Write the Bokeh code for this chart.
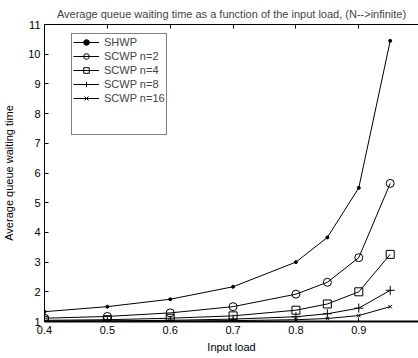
from bokeh.plotting import figure
from bokeh.models import Range1d, LinearAxis, Legend, LegendItem, FixedTicker
from bokeh.embed import file_html
from bokeh.resources import INLINE

# ---- data ----
load = [0.4, 0.5, 0.6, 0.7, 0.8, 0.85, 0.9, 0.95]
shwp = [1.33, 1.50, 1.75, 2.17, 3.00, 3.83, 5.50, 10.45]
scwp_n2 = [1.11, 1.17, 1.29, 1.50, 1.92, 2.32, 3.15, 5.65]
scwp_n4 = [1.04, 1.06, 1.11, 1.19, 1.38, 1.59, 2.00, 3.26]
scwp_n8 = [1.01, 1.02, 1.04, 1.08, 1.16, 1.26, 1.45, 2.05]
scwp_n16 = [1.00, 1.01, 1.01, 1.03, 1.06, 1.10, 1.20, 1.50]
x_ticks = [0.4, 0.5, 0.6, 0.7, 0.8, 0.9, 1.0]
y_ticks = [1, 2, 3, 4, 5, 6, 7, 8, 9, 10, 11]

FONT = "Liberation Sans"

p = figure(width=418, height=358, output_backend="svg", toolbar_location=None,
           x_range=Range1d(0.4, 0.995), y_range=Range1d(1, 11),
           min_border_left=43, min_border_right=0, min_border_top=24,
           min_border_bottom=37,
           title="Average queue waiting time as a function of the input load, (N-->infinite)")
p.title.text_font = FONT
p.title.text_font_size = "11px"
p.title.text_font_style = "normal"
p.title.align = "center"
p.title.vertical_align = "top"
p.title.standoff = 6
p.outline_line_color = None
p.grid.visible = False
p.background_fill_color = "white"
p.border_fill_color = "white"

for ax in (p.xaxis[0], p.yaxis[0]):
    ax.major_tick_in = 4
    ax.major_tick_out = 0
    ax.minor_tick_line_color = None
    ax.axis_line_color = "black"
    ax.major_tick_line_color = "black"
    ax.major_label_text_font = FONT
    ax.major_label_text_font_size = "11px"
    ax.major_label_text_color = "black"
    ax.axis_label_text_font = FONT
    ax.axis_label_text_font_size = "11px"
    ax.axis_label_text_font_style = "normal"
    ax.axis_label_text_color = "black"

p.xaxis[0].ticker = FixedTicker(ticks=x_ticks)
p.yaxis[0].ticker = FixedTicker(ticks=y_ticks)
p.xaxis[0].axis_label = "Input load"
p.yaxis[0].axis_label = "Average queue waiting time"
p.xaxis[0].axis_line_width = 2
p.xaxis[0].major_label_standoff = 4
p.xaxis[0].axis_label_standoff = 4
p.yaxis[0].major_label_standoff = 4
p.yaxis[0].axis_label_standoff = 10

top = LinearAxis(ticker=FixedTicker(ticks=x_ticks), major_tick_in=4, major_tick_out=0,
                 minor_tick_line_color=None, major_label_text_alpha=0,
                 major_label_text_font_size="1px", axis_line_color="black",
                 major_label_standoff=0)
p.add_layout(top, "above")

kw = dict(line_color="black", line_width=1)
r1 = p.line(load, shwp, **kw)
m1 = p.scatter(load, shwp, marker="circle", size=3, fill_color="black", line_color="black")
r2 = p.line(load, scwp_n2, **kw)
m2 = p.scatter(load, scwp_n2, marker="circle", size=8, fill_color=None, line_color="black")
r3 = p.line(load, scwp_n4, **kw)
m3 = p.scatter(load, scwp_n4, marker="square", size=8, fill_color=None, line_color="black")
r4 = p.line(load, scwp_n8, **kw)
m4 = p.scatter(load, scwp_n8, marker="cross", size=9, line_color="black")
r5 = p.line(load, scwp_n16, **kw)
m5 = p.scatter(load, scwp_n16, marker="x", size=5, line_color="black")
blank1 = p.line([], [], line_alpha=0)
blank2 = p.line([], [], line_alpha=0)

legend = Legend(items=[
    LegendItem(label="SHWP", renderers=[r1, m1]),
    LegendItem(label="SCWP n=2", renderers=[r2, m2]),
    LegendItem(label="SCWP n=4", renderers=[r3, m3]),
    LegendItem(label="SCWP n=8", renderers=[r4, m4]),
    LegendItem(label="SCWP n=16", renderers=[r5, m5]),
    LegendItem(label=" ", renderers=[blank1]),
    LegendItem(label="  ", renderers=[blank2]),
], location=(27, 186))
legend.label_text_font = FONT
legend.label_text_font_size = "11px"
legend.label_height = 14
legend.glyph_height = 14
legend.glyph_width = 26
legend.label_standoff = 5
legend.spacing = 0
legend.padding = 1
legend.margin = 0
legend.title_standoff = 0
legend.border_line_color = "black"
legend.border_line_width = 1
legend.background_fill_alpha = 1
p.add_layout(legend, "center")

open("out.html", "w").write(file_html(p, INLINE))
